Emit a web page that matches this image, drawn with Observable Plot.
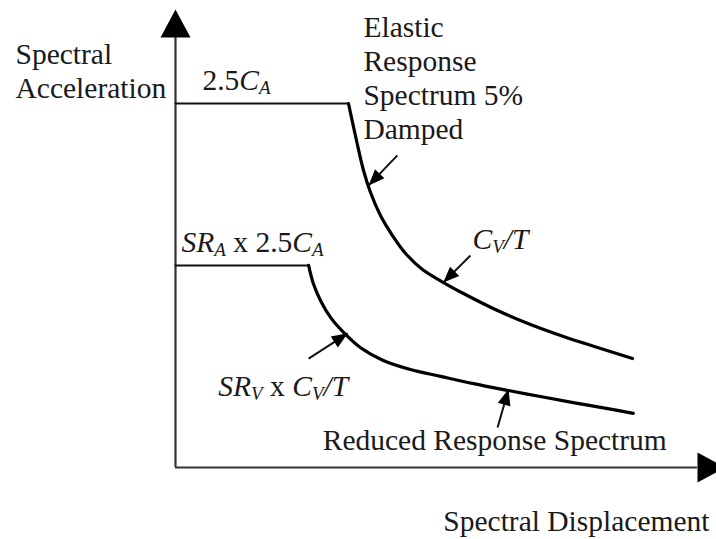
<!DOCTYPE html>
<html>
<head>
<meta charset="utf-8">
<script src="https://cdn.jsdelivr.net/npm/d3@7"></script>
<script src="https://cdn.jsdelivr.net/npm/@observablehq/plot@0.6"></script>
<style>
  html, body { margin: 0; padding: 0; background: #fff; }
</style>
</head>
<body>
<script>
// ---- data (schematic units: displacement 0..100, acceleration 0..100) ----
const elasticDisp = [0, 33.14, 34.67, 36.02, 37.36, 39.27, 41.57, 44.25, 47.32, 51.34, 55.17, 61.69, 68.01, 74.33, 80.84, 87.55];
const elasticAcc  = [84.65, 84.65, 76.05, 69.07, 63.95, 58.60, 53.95, 49.53, 46.05, 43.02, 40.47, 36.51, 33.26, 30.47, 27.91, 25.35];
const reducedDisp = [0, 25.5, 26.4, 27.8, 29.7, 32.2, 35.4, 39.8, 45.0, 50.8, 57.1, 63.8, 69.9, 76.2, 82.8, 87.7];
const reducedAcc  = [47.0, 47.0, 42.8, 38.8, 34.9, 31.4, 27.9, 24.9, 22.8, 21.2, 19.5, 17.9, 16.5, 15.1, 13.7, 12.6];

const labelText = [
  "Spectral\nAcceleration",
  "2.5<i>C</i><sub>A</sub>",
  "Elastic\nResponse\nSpectrum 5%\nDamped",
  "<i>C</i><sub>V</sub><i>/T</i>",
  "<i>SR</i><sub>A</sub> x 2.5<i>C</i><sub>A</sub>",
  "<i>SR</i><sub>V</sub> x <i>C</i><sub>V</sub><i>/T</i>",
  "Reduced Response Spectrum",
  "Spectral Displacement"
];
const labelDisp = [-30.65, 5.17, 36.0, 56.9, 1.15, 8.2, 28.2, 51.3];
const labelAcc  = [86.0, 87.7, 76.5, 50.9, 50.2, 16.7, 4.0, -14.7];

const arrowTailDisp = [42.5, 56.5, 25.5, 61.7];
const arrowTailAcc  = [72.6, 49.3, 25.3, 9.3];
const arrowTipDisp  = [37.0, 51.3, 33.0, 63.8];
const arrowTipAcc   = [65.6, 43.0, 31.2, 18.2];

const axisMax = 100;

// ---- layout ----
const W = 716, H = 539;
const mL = 175, mR = 19, mT = 37, mB = 72;
const xs = d3.scaleLinear([0, 100], [mL, W - mR]);
const ys = d3.scaleLinear([0, 100], [H - mB, mT]);

const toRows = (xa, ya) => xa.map((x, i) => ({x, y: ya[i]}));
const elastic = toRows(elasticDisp, elasticAcc);
const reduced = toRows(reducedDisp, reducedAcc);
const labels = labelText.map((t, i) => ({t, x: labelDisp[i], y: labelAcc[i]}));
const arrows = arrowTailDisp.map((x, i) => {
  const x2 = arrowTipDisp[i], y1 = arrowTailAcc[i], y2 = arrowTipAcc[i];
  const dxp = xs(x2) - xs(x), dyp = ys(y2) - ys(y1);
  return {x1: x, y1, x2, y2, angle: Math.atan2(dxp, -dyp) * 180 / Math.PI};
});
const axisHeads = [{x: axisMax, y: 0, angle: 90}, {x: 0, y: axisMax, angle: 0}];

// custom filled arrowhead symbols (pointing up before rotation)
const headFromBase = { draw(ctx) { const L = 28, w = 30; ctx.moveTo(0, -L); ctx.lineTo(w / 2, 0); ctx.lineTo(-w / 2, 0); ctx.closePath(); } };
const headAtTip = { draw(ctx) { const L = 16, w = 13; ctx.moveTo(0, 0); ctx.lineTo(w / 2, L); ctx.lineTo(-w / 2, L); ctx.closePath(); } };

const ink = "#111";
const plot = Plot.plot({
  width: W, height: H,
  marginLeft: mL, marginRight: mR, marginTop: mT, marginBottom: mB,
  x: {domain: [0, 100], axis: null},
  y: {domain: [0, 100], axis: null},
  style: {fontFamily: "'Liberation Serif', 'Times New Roman', serif", background: "#fff", color: ink},
  marks: [
    // axes
    Plot.ruleX([0], {y1: 0, y2: axisMax, stroke: "#333", strokeWidth: 2.2}),
    Plot.ruleY([0], {x1: 0, x2: axisMax, stroke: "#333", strokeWidth: 2.2}),
    Plot.dot(axisHeads, {x: "x", y: "y", rotate: "angle", symbol: headFromBase, fill: "#000", stroke: "none"}),
    // plateaus
    Plot.line(elastic.slice(0, 2), {x: "x", y: "y", stroke: ink, strokeWidth: 2}),
    Plot.line(reduced.slice(0, 2), {x: "x", y: "y", stroke: ink, strokeWidth: 2}),
    // descending branches
    Plot.line(elastic.slice(1), {x: "x", y: "y", stroke: "#000", strokeWidth: 3.2, curve: "catmull-rom", strokeLinejoin: "round"}),
    Plot.line(reduced.slice(1), {x: "x", y: "y", stroke: "#000", strokeWidth: 3.2, curve: "catmull-rom", strokeLinejoin: "round"}),
    // annotation arrows
    Plot.link(arrows, {x1: "x1", y1: "y1", x2: "x2", y2: "y2", stroke: ink, strokeWidth: 2}),
    Plot.dot(arrows, {x: "x2", y: "y2", rotate: "angle", symbol: headAtTip, fill: "#000", stroke: "none"}),
    // labels
    Plot.text(labels, {x: "x", y: "y", text: "t", textAnchor: "start", lineAnchor: "bottom",
      lineHeight: 1.15, fontSize: 29.5, fill: "#1a1a1a"})
  ]
});

// rich text: italics and subscripts
const NS = "http://www.w3.org/2000/svg";
plot.querySelectorAll("text").forEach(el => {
  const s = el.textContent;
  if (!s.includes("<")) return;
  el.textContent = "";
  const re = /<(i|sub)>(.*?)<\/\1>|([^<]+)/g;
  let m, shifted = false;
  while ((m = re.exec(s))) {
    const ts = document.createElementNS(NS, "tspan");
    if (m[3] !== undefined) {
      ts.textContent = m[3];
      if (shifted) { ts.setAttribute("dy", "-4"); shifted = false; }
    } else if (m[1] === "i") {
      ts.textContent = m[2];
      ts.setAttribute("font-style", "italic");
      if (shifted) { ts.setAttribute("dy", "-4"); shifted = false; }
    } else {
      ts.textContent = m[2];
      ts.setAttribute("font-style", "italic");
      ts.setAttribute("font-size", "19");
      ts.setAttribute("dy", shifted ? "0" : "4");
      shifted = true;
    }
    el.appendChild(ts);
  }
});

document.body.appendChild(plot);
</script>
</body>
</html>
